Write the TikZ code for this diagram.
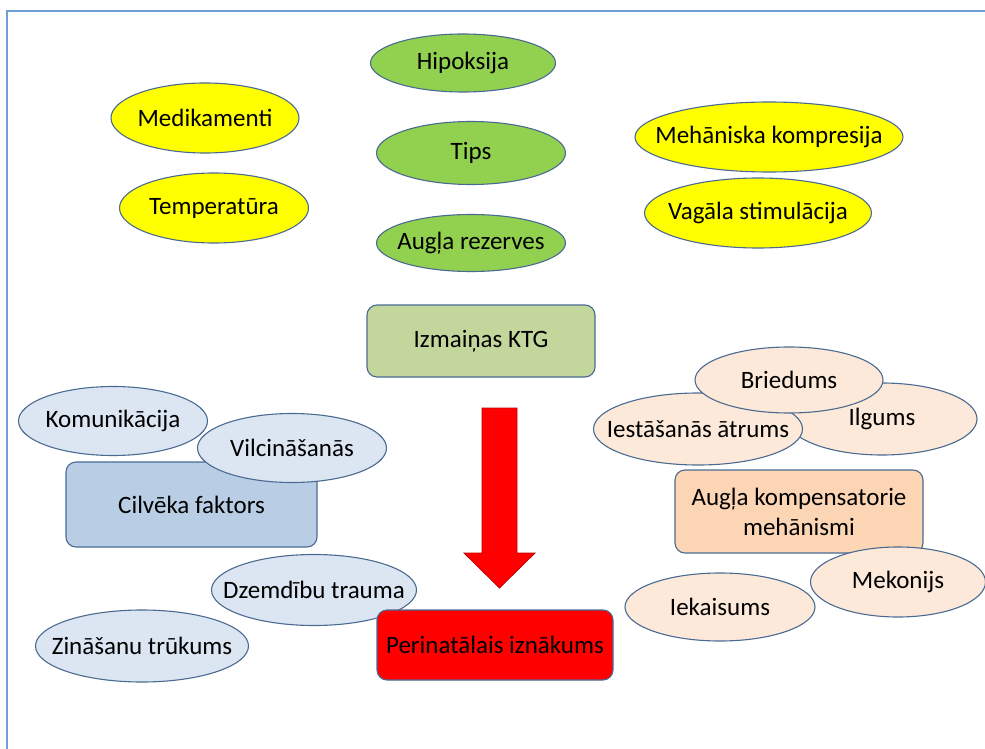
\documentclass[tikz,border=0pt]{standalone}
\usepackage{fontspec}
\setmainfont{Carlito}
\usepackage{xcolor}
\usetikzlibrary{shapes.geometric}
\definecolor{edgeblue}{HTML}{4A6A92}
\definecolor{frameblue}{HTML}{6F9FD8}
\definecolor{dzeltens}{HTML}{FFFF00}
\definecolor{zals}{HTML}{92D050}
\definecolor{ktgzals}{HTML}{C3D69B}
\definecolor{gaisszils}{HTML}{DCE6F2}
\definecolor{zilsbox}{HTML}{B9CDE5}
\definecolor{persiks}{HTML}{FDE9D9}
\definecolor{persiksbox}{HTML}{FCD5B5}

\begin{document}
\begin{tikzpicture}[x=1pt, y=-1pt,
  every node/.style={font=\fontsize{25}{30}\selectfont, inner sep=0pt, text=black},
  oval/.style={ellipse, draw=edgeblue, line width=1.1pt,
    execute at begin node={\hbox to 0pt\bgroup\hss}, execute at end node={\hss\egroup}},
  box/.style={rectangle, rounded corners=10pt, draw=edgeblue, line width=1.1pt}]
  \useasboundingbox (0,0) rectangle (985,749);
  \draw[frameblue, line width=1.5pt] (7,749) -- (7,11) -- (985,11);
  \node[oval, fill=zals, minimum width=185pt, minimum height=58pt] (hipoksija) at (463,63) {Hipoksija};
  \node[oval, fill=zals, minimum width=189pt, minimum height=63pt] (tips) at (471,153) {Tips};
  \node[oval, fill=zals, minimum width=189pt, minimum height=57pt] (rezerves) at (471,243) {Augļa rezerves};
  \node[oval, fill=dzeltens, minimum width=188pt, minimum height=70pt] (medikamenti) at (205,118) {Medikamenti};
  \node[oval, fill=dzeltens, minimum width=189pt, minimum height=70pt] (temperatura) at (214,208) {Temperatūra};
  \node[oval, fill=dzeltens, minimum width=268pt, minimum height=70pt] (kompresija) at (769,137) {Mehāniska kompresija};
  \node[oval, fill=dzeltens, minimum width=227pt, minimum height=70pt] (vagala) at (758,213) {Vagāla stimulācija};
  \node[box, fill=ktgzals, minimum width=228pt, minimum height=72pt] (ktg) at (481,341) {Izmaiņas KTG};
  \filldraw[fill=red, draw=red!75!black, line width=0.8pt] (482,408) -- (517,408) -- (517,553) -- (535,553) -- (499.5,588) -- (464,553) -- (482,553) -- cycle;
  \node[oval, fill=gaisszils, minimum width=189pt, minimum height=69pt] (komunikacija) at (113,421) {Komunikācija};
  \node[box, fill=zilsbox, minimum width=251pt, minimum height=85pt] (cilveks) at (191.5,504.5) {Cilvēka faktors};
  \node[oval, fill=gaisszils, minimum width=189pt, minimum height=69pt] (vilcinasanas) at (292,448) {Vilcināšanās};
  \node[oval, fill=gaisszils, minimum width=213pt, minimum height=72pt] (zinasanas) at (142,646) {Zināšanu trūkums};
  \node[oval, fill=gaisszils, minimum width=205pt, minimum height=71pt] (trauma) at (314,590) {Dzemdību trauma};
  \node[box, fill=red, minimum width=236pt, minimum height=70pt] (iznakums) at (495,645) {Perinatālais iznākums};
  \node[oval, fill=persiks, minimum width=190pt, minimum height=72pt] (ilgums) at (882,419) {Ilgums};
  \node[oval, fill=persiks, minimum width=209pt, minimum height=72pt] (atrums) at (698,429) {Iestāšanās ātrums};
  \node[oval, fill=persiks, minimum width=188pt, minimum height=66pt] (briedums) at (789,380) {Briedums};
  \node[box, fill=persiksbox, minimum width=248pt, minimum height=83pt, align=center] (mehanismi) at (799,511.5) {Augļa kompensatorie\\mehānismi};
  \node[oval, fill=persiks, minimum width=190pt, minimum height=68pt] (iekaisums) at (720,607) {Iekaisums};
  \node[oval, fill=persiks, minimum width=175pt, minimum height=70pt] (mekonijs) at (898,582) {Mekonijs};
\end{tikzpicture}
\end{document}
